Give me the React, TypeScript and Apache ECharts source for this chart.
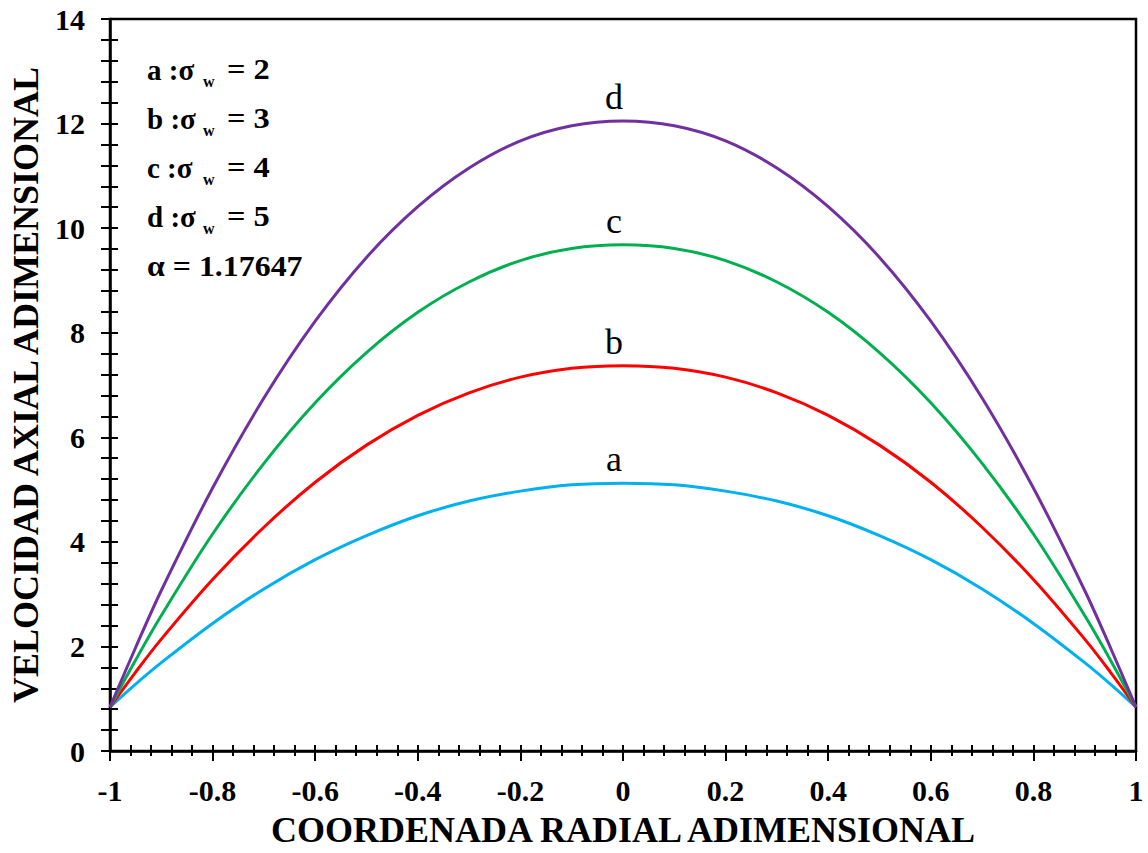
import React, { useEffect, useRef } from 'react';
import * as echarts from 'echarts';

// Radial coordinate samples
const xValues = [-1, -0.95, -0.9, -0.8, -0.7, -0.6, -0.5, -0.4, -0.3, -0.2, -0.1, 0, 0.1, 0.2, 0.3, 0.4, 0.5, 0.6, 0.7, 0.8, 0.9, 0.95, 1];

// Axial velocity for each curve
const seriesA = [0.84, 1.28, 1.69, 2.44, 3.10, 3.66, 4.12, 4.50, 4.78, 4.97, 5.09, 5.12, 5.09, 4.97, 4.78, 4.50, 4.12, 3.66, 3.10, 2.44, 1.69, 1.28, 0.84];
const seriesB = [0.84, 1.51, 2.14, 3.28, 4.28, 5.14, 5.85, 6.42, 6.85, 7.15, 7.32, 7.37, 7.32, 7.15, 6.85, 6.42, 5.85, 5.14, 4.28, 3.28, 2.14, 1.51, 0.84];
const seriesC = [0.84, 1.74, 2.59, 4.15, 5.50, 6.66, 7.62, 8.39, 8.97, 9.38, 9.61, 9.68, 9.61, 9.38, 8.97, 8.39, 7.62, 6.66, 5.50, 4.15, 2.59, 1.74, 0.84];
const seriesD = [0.84, 1.98, 3.07, 5.03, 6.75, 8.22, 9.44, 10.41, 11.15, 11.67, 11.96, 12.05, 11.96, 11.67, 11.15, 10.41, 9.44, 8.22, 6.75, 5.03, 3.07, 1.98, 0.84];

const curveNames = ['a', 'b', 'c', 'd'];
const curveColors = ['#00B0F0', '#FF0000', '#00B050', '#7030A0'];
const sigmaValues = ['2', '3', '4', '5'];
const alphaValue = '1.17647';

const xTitle = 'COORDENADA RADIAL ADIMENSIONAL';
const yTitle = 'VELOCIDAD AXIAL ADIMENSIONAL';

const FONT = "'Liberation Serif', 'Times New Roman', serif";

export default function App() {
  const ref = useRef<HTMLDivElement>(null);

  useEffect(() => {
    if (!ref.current) return;
    const chart = echarts.init(ref.current, null, { renderer: 'svg' });
    const allSeries = [seriesA, seriesB, seriesC, seriesD];
    const peakIdx = xValues.indexOf(0);

    const tickLabel = { fontFamily: FONT, fontWeight: 'bold' as const, fontSize: 30, color: '#000' };

    const series = allSeries.map((ys, si) => ({
      type: 'line',
      name: curveNames[si],
      smooth: 0.35,
      showSymbol: true,
      symbol: 'circle',
      symbolSize: 0,
      lineStyle: { color: curveColors[si], width: 3 },
      itemStyle: { color: curveColors[si] },
      emphasis: { disabled: true },
      z: 3 + si,
      data: xValues.map((x, i) =>
        i === peakIdx
          ? {
              value: [x, ys[i]],
              label: {
                show: true,
                formatter: curveNames[si],
                position: 'top',
                distance: 6,
                offset: [-9, 0],
                fontFamily: FONT,
                fontSize: 36,
                color: '#000',
              },
            }
          : [x, ys[i]]
      ),
    }));

    const legendRowY = [70, 119, 168, 217];
    const graphicEls: any[] = [];
    curveNames.forEach((n, i) => {
      graphicEls.push({
        type: 'text', x: 147, y: legendRowY[i],
        style: { text: `${n} :σ`, fontFamily: FONT, fontWeight: 'bold', fontSize: 29, fill: '#000', verticalAlign: 'middle', align: 'left' },
      });
      graphicEls.push({
        type: 'text', x: 203, y: legendRowY[i] + 11,
        style: { text: 'w', fontFamily: FONT, fontWeight: 'bold', fontSize: 16, fill: '#000', verticalAlign: 'middle', align: 'left' },
      });
      graphicEls.push({
        type: 'text', x: 227, y: legendRowY[i], scaleX: 1.12,
        style: { text: `= ${sigmaValues[i]}`, fontFamily: FONT, fontWeight: 'bold', fontSize: 29, fill: '#000', verticalAlign: 'middle', align: 'left' },
      });
    });
    graphicEls.push({
      type: 'text', x: 147, y: 266, scaleX: 1.1,
      style: { text: `α = ${alphaValue}`, fontFamily: FONT, fontWeight: 'bold', fontSize: 29, fill: '#000', verticalAlign: 'middle', align: 'left' },
    });

    chart.setOption({
      animation: false,
      backgroundColor: '#fff',
      grid: { left: 110, right: 12, top: 19, bottom: 99, show: true, borderColor: '#000', borderWidth: 2.5, backgroundColor: 'transparent' },
      xAxis: [
        {
          type: 'value', min: -1, max: 1, interval: 0.2, position: 'bottom',
          name: xTitle, nameLocation: 'middle', nameGap: 61,
          nameTextStyle: { fontFamily: FONT, fontWeight: 'bold', fontSize: 36, color: '#000' },
          axisLine: { show: true, onZero: false, lineStyle: { color: '#000', width: 2.5 } },
          axisTick: { show: true, inside: false, length: 10, lineStyle: { color: '#000', width: 2 } },
          minorTick: { show: true, splitNumber: 5, length: 5, lineStyle: { color: '#000', width: 2 } },
          axisLabel: { ...tickLabel, margin: 24 },
          splitLine: { show: false },
          minorSplitLine: { show: false },
        },
        {
          type: 'value', min: -1, max: 1, interval: 0.2, position: 'bottom',
          axisLine: { show: false, onZero: false },
          axisTick: { show: true, inside: true, length: 6, lineStyle: { color: '#000', width: 2 } },
          minorTick: { show: true, splitNumber: 5, length: 6, lineStyle: { color: '#000', width: 2 } },
          axisLabel: { show: false },
          splitLine: { show: false },
          minorSplitLine: { show: false },
        },
      ],
      yAxis: [
        {
          type: 'value', min: 0, max: 14, interval: 2, position: 'left',
          name: yTitle, nameLocation: 'middle', nameGap: 57, nameRotate: 90,
          nameTextStyle: { fontFamily: FONT, fontWeight: 'bold', fontSize: 36, color: '#000' },
          axisLine: { show: true, onZero: false, lineStyle: { color: '#000', width: 2.5 } },
          axisTick: { show: true, inside: false, length: 9, lineStyle: { color: '#000', width: 2 } },
          minorTick: { show: true, splitNumber: 5, length: 9, lineStyle: { color: '#000', width: 2 } },
          axisLabel: { ...tickLabel, margin: 25 },
          splitLine: { show: false },
          minorSplitLine: { show: false },
        },
        {
          type: 'value', min: 0, max: 14, interval: 2, position: 'left',
          axisLine: { show: false, onZero: false },
          axisTick: { show: true, inside: true, length: 8, lineStyle: { color: '#000', width: 2 } },
          minorTick: { show: true, splitNumber: 5, length: 8, lineStyle: { color: '#000', width: 2 } },
          axisLabel: { show: false },
          splitLine: { show: false },
          minorSplitLine: { show: false },
        },
      ],
      graphic: graphicEls,
      series,
    });

    return () => chart.dispose();
  }, []);

  return (
    <div
      ref={ref}
      style={{ position: 'absolute', left: 0, top: 0, width: 1148, height: 853, background: '#fff' }}
    />
  );
}
